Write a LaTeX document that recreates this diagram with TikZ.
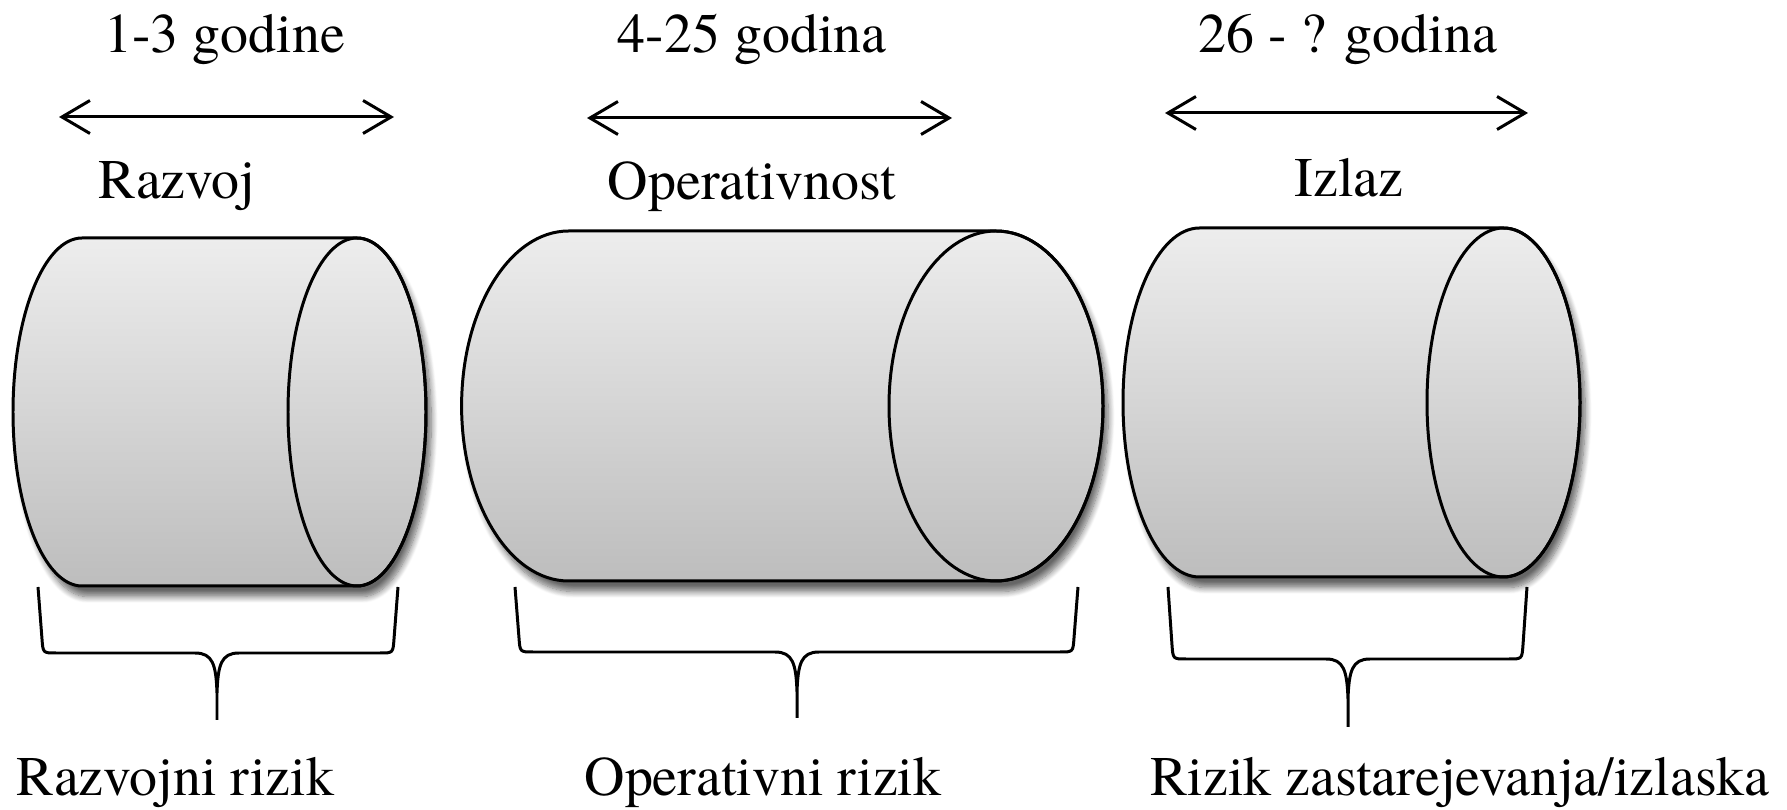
\documentclass[tikz,border=0pt]{standalone}
\usepackage{fontspec}
\IfFontExistsTF{texgyretermes-regular.otf}{\setmainfont{texgyretermes-regular.otf}}{\setmainfont{Latin Modern Roman}}
\usetikzlibrary{arrows.meta,shadows.blur}

\definecolor{cyltop}{RGB}{237,237,237}
\definecolor{cylbot}{RGB}{189,189,189}

\begin{document}
\begin{tikzpicture}[x=0.01cm, y=-0.01cm, line width=0.85pt, every node/.style={font=\fontsize{15.9}{18}\selectfont, inner sep=0pt}, >={Straight Barb[length=2.8mm, width=3.3mm]}, lab/.style={anchor=base}, body/.style={draw, top color=cyltop, bottom color=cylbot, blur shadow={shadow xshift=1.5pt, shadow yshift=-3pt, shadow opacity=60, shadow blur steps=10}}]
	\useasboundingbox (0,0) rectangle (1787,810);
	% cylinders
	\foreach \l/\r/\c/\rx/\ry in {82/357/412/69/174, 568.6/996/406/107/175, 1199.5/1503.5/402.5/76.5/174.5} {
		\path[body] (\l,\c-\ry) -- (\r,\c-\ry) arc[start angle=-90, end angle=90, x radius=\rx, y radius=\ry] -- (\l,\c+\ry) arc[start angle=90, end angle=270, x radius=\rx, y radius=\ry] -- cycle;
		\draw (\r,\c) ellipse[x radius=\rx, y radius=\ry];
	}
	% braces
	\foreach \l/\r/\m/\t/\h/\b in {38/398/217/587/653/720, 515/1078/797/587/652/718, 1168/1527/1348/587/659/727} {
		\draw (\l,\t) -- (\l+4,\h-14) .. controls (\l+5,\h) .. (\l+18,\h) -- (\m-22,\h) .. controls (\m-4,\h) and (\m-1,\h+12) .. (\m,\h+40) -- (\m,\b)
			(\r,\t) -- (\r-4,\h-14) .. controls (\r-5,\h) .. (\r-18,\h) -- (\m+22,\h) .. controls (\m+4,\h) and (\m+1,\h+12) .. (\m,\h+40);
	}
	% time spans
	\coordinate (devl) at (59,117);
	\coordinate (devr) at (394,117);
	\coordinate (opsl) at (587,118);
	\coordinate (opsr) at (952,118);
	\coordinate (outl) at (1165,113);
	\coordinate (outr) at (1528,113);
	\draw[<->] (devl) -- (devr);
	\draw[<->] (opsl) -- (opsr);
	\draw[<->] (outl) -- (outr);
	\node[lab] (yrdev) at (224.5,53) {1-3 godine};
	\node[lab] (yrops) at (752,53) {4-25 godina};
	\node[lab] (yrout) at (1348,53) {26 - ? godina};
	\node[lab] (phdev) at (177,199) {Razvoj};
	\node[lab] (phops) at (752,200) {Operativnost};
	\node[lab] (phout) at (1349,197) {Izlaz};
	\node[lab] (rkdev) at (175.5,796) {Razvojni rizik};
	\node[lab] (rkops) at (763,796) {Operativni rizik};
	\node[lab] (rkout) at (1460,796) {Rizik zastarejevanja/izlaska};
\end{tikzpicture}
\end{document}
